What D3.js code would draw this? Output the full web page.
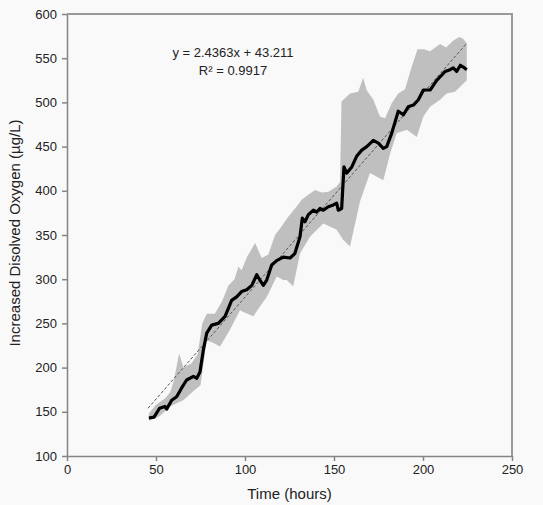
<!DOCTYPE html>
<html>
<head>
<meta charset="utf-8">
<script src="https://cdn.jsdelivr.net/npm/d3@7"></script>
<style>
    body { margin: 0; background: #f9f9f9; }
    #chart-area { width: 543px; height: 505px; }
    .axis text { font-family: "Liberation Sans", Arial, sans-serif; font-size: 13px; fill: #222; }
    .axis path, .axis line { stroke: #858585; }
    .label { font-family: "Liberation Sans", Arial, sans-serif; fill: #222; }
</style>
</head>
<body>
<div id="chart-area"></div>
<script>

// mean curve (hours, µg/L)
let meanTime = [46, 48.9, 52, 55, 56, 58.8, 61.6, 64.4, 67.2, 71, 72.9, 74.7, 76.6, 78.5, 81.3, 85,
    88.8, 92.5, 95.3, 98.1, 101, 103.8, 106.6, 108.4, 110.3, 112.2, 115, 117.8, 121.5, 125.3, 128, 130.9,
    132.2, 133.7, 135.6, 138.4, 140.3, 142.1, 144, 146.8, 149.6, 151.5, 152.4, 154.3, 155.6, 157.1, 160,
    162.7, 165.6, 168.4, 172.1, 174.9, 177.7, 179.6, 182.4, 186.1, 189, 191.7, 194.6, 197.4, 200.2, 204,
    207.7, 210.6, 212.4, 215.2, 217, 218.9, 221, 222.6, 224.6];
let meanValue = [143, 144, 154, 156, 153, 163, 167, 177, 186, 190, 188, 195, 220, 239, 248, 250,
    258, 276, 280, 286, 288, 293, 305, 299, 293, 299, 316, 321, 325, 324, 329, 348,
    369, 365, 373, 378, 376, 380, 378, 382, 384, 386, 378, 380, 427, 420, 427,
    439, 446, 450, 457, 454, 448, 450, 465, 490, 486, 495, 497, 503, 514, 514,
    525, 531, 535, 537, 539, 535, 542, 540, 537];

// upper edge of grey band
let upperTime = [46, 50, 55, 58, 60, 63, 65.4, 70, 73.4, 76, 78.5, 83.1, 87.1, 90.7, 94.1,
    96.3, 98.1, 101.1, 105.7, 109.4, 113.1, 116.9, 120.6, 124.4, 128.1, 131.9, 135.1, 139.4, 143.1, 146.9,
    151.5, 153.4, 154.2, 159, 163.6, 166.4, 168.3, 172.1, 175.8, 178.7, 182.4, 186.1, 189.9, 193.6,
    196.9, 200.3, 204, 209.6, 213, 217, 220.4, 222.5, 224.6];
let upperValue = [148, 158, 165, 172, 185, 216, 200, 205, 215, 250, 261, 261, 275, 293, 300,
    314, 310, 325, 341, 324, 328, 350, 360, 371, 380, 390, 395, 401, 398, 399,
    405, 410, 501, 510, 512, 528, 514, 503, 484, 482, 499, 510, 515, 540,
    560, 560, 558, 566, 562, 570, 574, 572, 567];

// lower edge of grey band
let lowerTime = [46, 52, 57.9, 65.3, 71.9, 75, 78.5, 82, 86, 91.6, 97.2, 100, 104.7, 108,
    112.2, 117.8, 121.5, 123.4, 127.1, 130.9, 136.5, 144, 151.5, 155, 159, 164.6, 170.2, 177.7,
    181.5, 185.2, 190.9, 196.5, 200.2, 204, 209.6, 213.3, 218, 221, 224.6];
let lowerValue = [140, 145, 156, 163, 175, 180, 231, 228, 224, 243, 265, 262, 258, 268,
    280, 303, 299, 299, 292, 329, 348, 363, 356, 345, 337, 388, 420, 412,
    442, 465, 469, 461, 484, 495, 503, 510, 512, 518, 525];

let xTicks = [0, 50, 100, 150, 200, 250];
let yTicks = [100, 150, 200, 250, 300, 350, 400, 450, 500, 550, 600];

let fitTime = [45.5, 224.6];
let fitValue = [154, 567];
let fitText = ["y = 2.4363x + 43.211", "R\u00b2 = 0.9917"];

let xTitle = "Time (hours)";
let yTitle = "Increased Disolved Oxygen (\u00b5g/L)";


class OxygenChart {

    constructor(_parentElement) {
        this.parentElement = _parentElement;
        this.initVis();
    }

    initVis() {
        let vis = this;

        vis.margin = { top: 14, right: 31, bottom: 49, left: 67 };
        vis.width = 543 - vis.margin.left - vis.margin.right;
        vis.height = 505 - vis.margin.top - vis.margin.bottom;

        vis.svg = d3.select("#" + vis.parentElement).append("svg")
            .attr("width", 543)
            .attr("height", 505)
            .append("g")
            .attr("transform", "translate(" + vis.margin.left + "," + vis.margin.top + ")");

        vis.x = d3.scaleLinear()
            .domain([0, 250])
            .range([0, vis.width]);

        vis.y = d3.scaleLinear()
            .domain([100, 600])
            .range([vis.height, 0]);

        vis.xAxis = d3.axisBottom(vis.x)
            .tickValues(xTicks)
            .tickSize(5)
            .tickPadding(4)
            .tickSizeOuter(0);

        vis.yAxis = d3.axisLeft(vis.y)
            .tickValues(yTicks)
            .tickSize(5)
            .tickPadding(5)
            .tickSizeOuter(0);

        vis.wrangleData();
    }

    wrangleData() {
        let vis = this;

        vis.meanData = meanTime.map((t, i) => ({ t: t, v: meanValue[i] }));
        vis.upperData = upperTime.map((t, i) => ({ t: t, v: upperValue[i] }));
        vis.lowerData = lowerTime.map((t, i) => ({ t: t, v: lowerValue[i] }));
        vis.fitData = fitTime.map((t, i) => ({ t: t, v: fitValue[i] }));

        // band polygon: upper edge forward, lower edge back
        vis.bandData = vis.upperData.concat(vis.lowerData.slice().reverse());

        vis.updateVis();
    }

    updateVis() {
        let vis = this;

        let line = d3.line()
            .x(d => vis.x(d.t))
            .y(d => vis.y(d.v));

        vis.svg.append("path")
            .attr("class", "band")
            .attr("d", line(vis.bandData) + "Z")
            .attr("fill", "#bfbfbf")
            .attr("stroke", "none");

        vis.svg.append("path")
            .datum(vis.fitData)
            .attr("d", line)
            .attr("fill", "none")
            .attr("stroke", "#555")
            .attr("stroke-width", 1)
            .attr("stroke-dasharray", "3,2");

        vis.svg.append("path")
            .datum(vis.meanData)
            .attr("d", line)
            .attr("fill", "none")
            .attr("stroke", "#000")
            .attr("stroke-width", 3.2)
            .attr("stroke-linejoin", "round");

        // frame top and right
        vis.svg.append("path")
            .attr("d", "M0,0H" + vis.width + "V" + vis.height)
            .attr("fill", "none")
            .attr("stroke", "#9a9a9a")
            .attr("stroke-width", 2);

        vis.svg.append("g")
            .attr("class", "x-axis axis")
            .attr("transform", "translate(0," + vis.height + ")")
            .call(vis.xAxis)
            .selectAll("path, line").attr("stroke-width", 1.5);

        vis.svg.append("g")
            .attr("class", "y-axis axis")
            .call(vis.yAxis)
            .selectAll("path, line").attr("stroke-width", 1.5);

        vis.svg.append("text")
            .attr("class", "label")
            .attr("x", vis.width / 2)
            .attr("y", vis.height + 43)
            .attr("text-anchor", "middle")
            .style("font-size", "15px")
            .text(xTitle);

        vis.svg.append("text")
            .attr("class", "label")
            .attr("transform", "translate(" + (20 - vis.margin.left) + "," + (233 - vis.margin.top) + ") rotate(-90)")
            .attr("text-anchor", "middle")
            .style("font-size", "15px")
            .text(yTitle);

        vis.svg.selectAll(".fit-label")
            .data(fitText)
            .enter().append("text")
            .attr("class", "label fit-label")
            .attr("x", 233 - vis.margin.left)
            .attr("y", (d, i) => 43 + i * 18)
            .attr("text-anchor", "middle")
            .style("font-size", "13px")
            .text(d => d);
    }
}

new OxygenChart("chart-area");

</script>
</body>
</html>
